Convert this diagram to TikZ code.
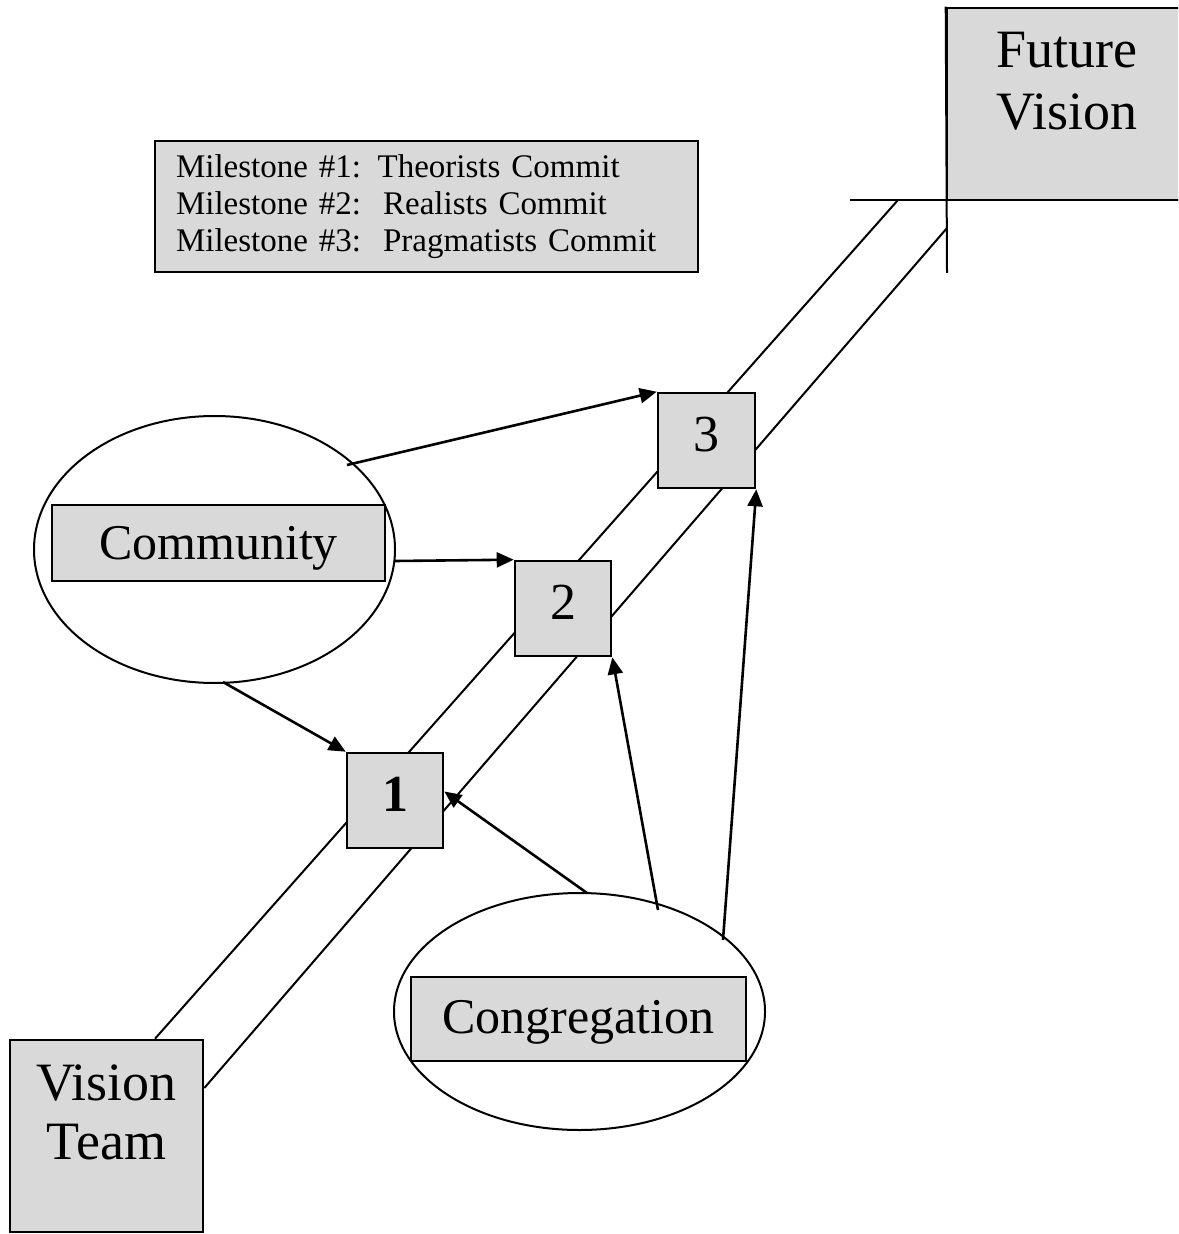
\documentclass[tikz,border=0pt]{standalone}
\usepackage{fontspec}
\setmainfont{Liberation Serif}
\usetikzlibrary{arrows.meta,shapes.geometric,calc}
\definecolor{boxgray}{RGB}{217,217,217}
\begin{document}
\begin{tikzpicture}[x=0.5pt,y=-0.5pt,
  graybox/.style={draw=black, line width=1.3pt, fill=boxgray, inner sep=0pt},
  oval/.style={draw=black, line width=1pt, ellipse, inner sep=0pt},
  milestonebox/.style={graybox, minimum width=48pt, minimum height=47.5pt,
    font=\fontsize{26}{30}\selectfont, text depth=6pt},
  labelbox/.style={graybox, font=\fontsize{25}{29}\selectfont, text depth=0pt},
  bigtext/.style={align=center, inner sep=0pt},
  link/.style={line width=1.3pt, -{Triangle[length=8.5pt,width=7.5pt]}},
  track/.style={line width=1pt},
]
\useasboundingbox (0,0) rectangle (1178,1234);
\clip (0,0) rectangle (1178,1234);
\fill[white] (0,0) rectangle (1178,1234);

% legend
\node[graybox, minimum width=271.5pt, minimum height=65.5pt, text width=250.5pt,
      inner xsep=10.5pt, align=left, font=\fontsize{16.5}{18.5}\selectfont]
  (legend) at (426.5,206.5)
  {Milestone \#1: Theorists Commit\\
   Milestone \#2:\ \ Realists Commit\\
   Milestone \#3:\ \ Pragmatists Commit};

% end points of the two tracks
\coordinate (fa) at (898,200);
\coordinate (fb) at (947,228);

% start and goal boxes
\node[graybox, minimum width=96.5pt, minimum height=96pt] (vt) at (106.5,1136) {};
\node[bigtext, anchor=north, font=\fontsize{27}{29.5}\selectfont] (vtlabel) at (106.5,1064) {Vision\\Team};

% the two parallel tracks
\draw[track] ($(vt.north)+(48.5,0)$) -- (fa);
\draw[track] ($(vt.east)+(0,-48)$) -- (fb);

\node[graybox, minimum width=130pt, minimum height=96pt] (fv) at (1077,104) {};
\node[bigtext, anchor=north, font=\fontsize{27}{31}\selectfont] (fvlabel) at (1067,32) {Future\\Vision};
\coordinate (fvleft) at (850,200);
\coordinate (fvright) at (1200,200);
\coordinate (fvdown) at (947,273);
\draw[track] (fvleft) -- (fvright);
\draw[track] (fv.north west) -- (fvdown);

% milestones
\node[milestonebox, minimum width=48.5pt] (b3) at (706.5,440.5) {3};
\node[milestonebox] (b2) at (563,608.5) {2};
\node[milestonebox, font=\fontsize{26}{30}\selectfont\bfseries] (b1) at (395,800.5) {1};

% stakeholder groups
\node[oval, minimum width=180.5pt, minimum height=133.5pt] (comm) at (214.5,549.5) {};
\node[labelbox, minimum width=166.5pt, minimum height=38pt] (commlabel) at (218.5,543) {Community};
\node[oval, minimum width=185.5pt, minimum height=118.5pt] (cong) at (579.5,1011.5) {};
\node[labelbox, minimum width=167.5pt, minimum height=42pt, text depth=2pt] (conglabel) at (578.5,1019) {Congregation};

% commitments
\draw[link] ($(comm.center)+(132.5,-84.5)$) -- (b3.north west);
\draw[link] ($(comm.center)+(180.5,11.5)$) -- (b2.north west);
\draw[link] ($(comm.center)+(8.5,132.5)$) -- (b1.north west);
\draw[link] ($(cong.center)+(7.5,-118.5)$) -- ($(b1.east)+(0,-9)$);
\draw[link] ($(cong.center)+(78.5,-101.5)$) -- (b2.south east);
\draw[link] ($(cong.center)+(143.5,-71.5)$) -- (b3.south east);
\end{tikzpicture}
\end{document}
